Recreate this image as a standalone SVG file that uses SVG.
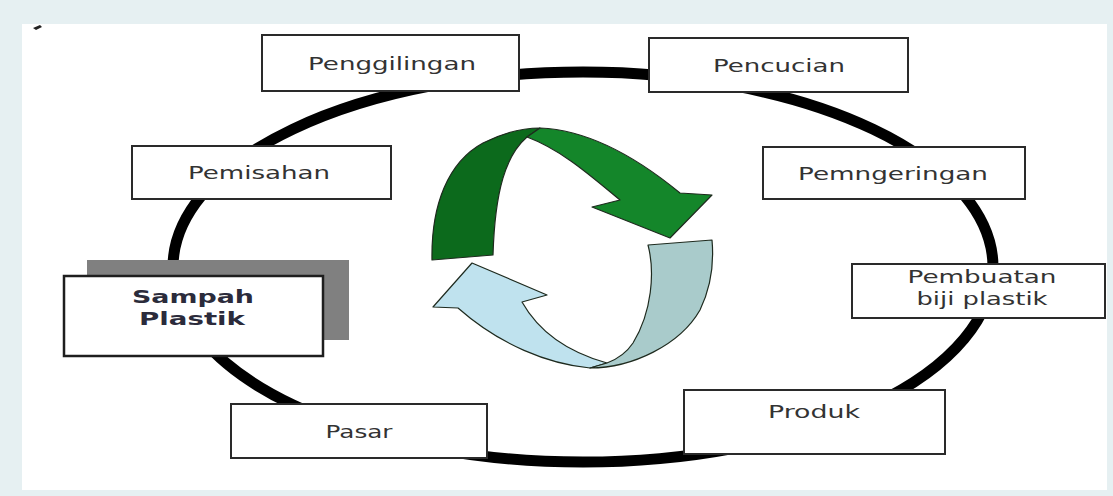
<svg xmlns="http://www.w3.org/2000/svg" width="1113" height="496" viewBox="0 0 1113 496">
<style>
.box{fill:#fff;stroke:#2a2a2a;stroke-width:2}
.lbl{font-family:"DejaVu Sans","Liberation Sans",sans-serif;font-size:18px;fill:#333;text-anchor:middle}
.bold{font-weight:bold;fill:#2b2b3b}
.arr{stroke:#1e2a1e;stroke-width:1.2;stroke-linejoin:round}
</style>
<rect x="0" y="0" width="1113" height="496" fill="#e6f0f2"/>
<rect x="22" y="24" width="1085" height="466" fill="#ffffff"/>
<path d="M33,28 L40,25 L42,27 L36,30 Z" fill="#222"/>
<g id="connectors">
<ellipse cx="583" cy="267" rx="410" ry="195" fill="none" stroke="#000" stroke-width="11"/>
</g>
<g id="cycle-arrows">
<path class="arr" fill="#0c6a1c" d="M432,260 C431,205 448,162 483,143 C505,132 524,128 540,128 L527,137 C506,155 495,190 493,255 Z"/>
<path class="arr" fill="#14862a" d="M540,128 C590,130 640,160 680,193 L712,195 L670,238 L592,207 L620,200 C592,177 562,150 527,137 Z"/>
<path class="arr" fill="#bfe2ee" d="M472,263 L547,295 L522,302 C535,325 560,350 607,363 L590,368 C548,364 500,345 458,308 L433,307 Z"/>
<path class="arr" fill="#a9cbcb" d="M590,368 C632,368 680,345 700,310 C712,285 714,262 712,240 L648,245 C655,272 652,312 633,343 C625,355 615,360 607,363 Z"/>
</g>
<g id="penggilingan">
<rect class="box" x="262" y="35" width="257" height="56"/>
<text class="lbl" x="392" y="70" textLength="168" lengthAdjust="spacingAndGlyphs">Penggilingan</text>
</g>
<g id="pencucian">
<rect class="box" x="649" y="38" width="259" height="54"/>
<text class="lbl" x="779" y="72" textLength="132" lengthAdjust="spacingAndGlyphs">Pencucian</text>
</g>
<g id="pemisahan">
<rect class="box" x="132" y="146" width="259" height="53"/>
<text class="lbl" x="259" y="179" textLength="142" lengthAdjust="spacingAndGlyphs">Pemisahan</text>
</g>
<g id="pemngeringan">
<rect class="box" x="763" y="147" width="262" height="52"/>
<text class="lbl" x="893" y="180" textLength="190" lengthAdjust="spacingAndGlyphs">Pemngeringan</text>
</g>
<g id="pembuatan">
<rect class="box" x="852" y="264" width="253" height="54"/>
<text class="lbl" x="982" y="283" textLength="149" lengthAdjust="spacingAndGlyphs">Pembuatan</text>
<text class="lbl" x="982" y="305" textLength="131" lengthAdjust="spacingAndGlyphs">biji plastik</text>
</g>
<g id="produk">
<rect class="box" x="684" y="390" width="261" height="64"/>
<text class="lbl" x="814" y="418" textLength="92" lengthAdjust="spacingAndGlyphs">Produk</text>
</g>
<g id="pasar">
<rect class="box" x="231" y="404" width="256" height="54"/>
<text class="lbl" x="359" y="438" textLength="67" lengthAdjust="spacingAndGlyphs">Pasar</text>
</g>
<g id="sampah-plastik">
<rect x="87" y="260" width="262" height="80" fill="#808080"/>
<rect x="64" y="276" width="259" height="80" fill="#fff" stroke="#1e1e1e" stroke-width="2.5"/>
<text class="lbl bold" x="193" y="303" textLength="122" lengthAdjust="spacingAndGlyphs">Sampah</text>
<text class="lbl bold" x="192" y="325" textLength="106" lengthAdjust="spacingAndGlyphs">Plastik</text>
</g>
</svg>
